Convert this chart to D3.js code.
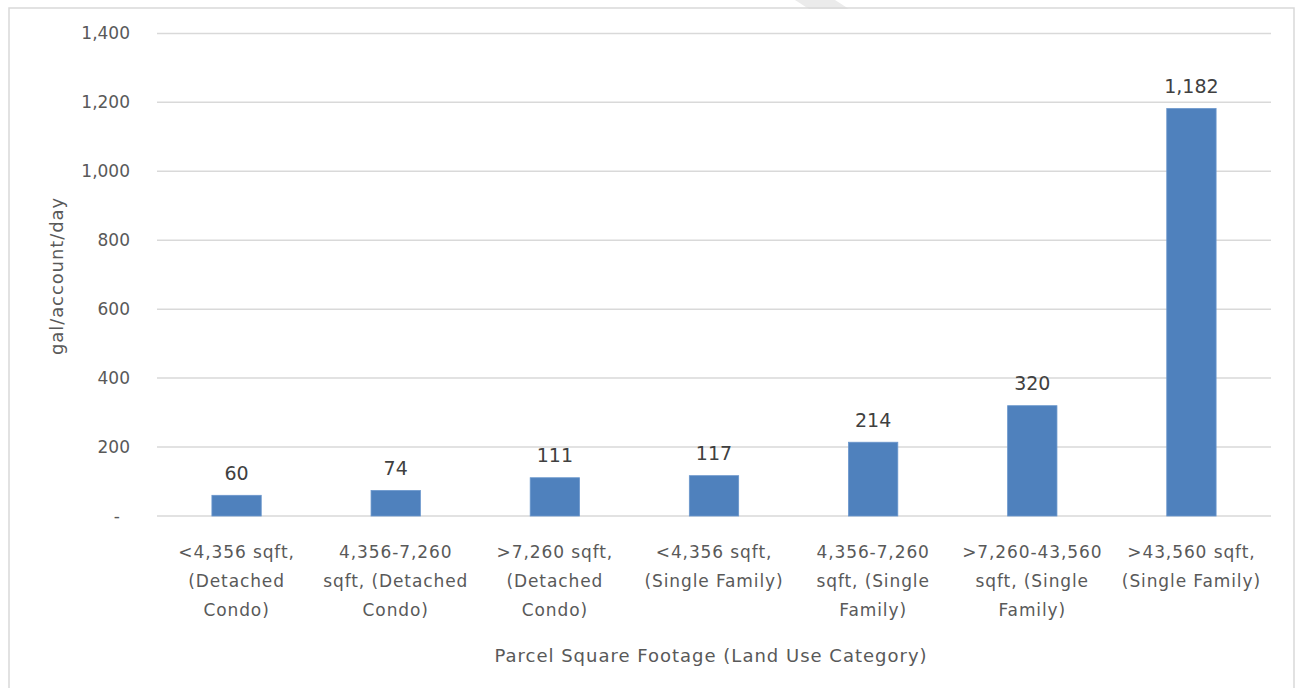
<!DOCTYPE html>
<html>
<head>
<meta charset="utf-8">
<script src="https://cdn.jsdelivr.net/npm/d3@7"></script>
<style>
  html, body { margin: 0; padding: 0; background: #fff; }
  svg { display: block; }
  text { font-family: "DejaVu Sans", sans-serif; }
</style>
</head>
<body>
<svg id="chart" width="1297" height="688"></svg>
<script>
const categories = [
  ["<4,356 sqft,", "(Detached", "Condo)"],
  ["4,356-7,260", "sqft, (Detached", "Condo)"],
  [">7,260 sqft,", "(Detached", "Condo)"],
  ["<4,356 sqft,", "(Single Family)"],
  ["4,356-7,260", "sqft, (Single", "Family)"],
  [">7,260-43,560", "sqft, (Single", "Family)"],
  [">43,560 sqft,", "(Single Family)"]
];
const values = [60, 74, 111, 117, 214, 320, 1182];
const yTicks = [0, 200, 400, 600, 800, 1000, 1200, 1400];
const yTitle = "gal/account/day";
const xTitle = "Parcel Square Footage (Land Use Category)";

const svg = d3.select("#chart");
const W = 1297, H = 688;
const m = { left: 157, right: 1271, top: 33.4, bottom: 516 };

svg.append("rect").attr("width", W).attr("height", H).attr("fill", "#fff");
// faint watermark band at the top
svg.append("polygon")
  .attr("points", "795,0 835,0 849,9 809,9")
  .attr("fill", "#ebebeb");
// chart border
svg.append("rect")
  .attr("x", 9).attr("y", 8).attr("width", 1285).attr("height", 700)
  .attr("fill", "none").attr("stroke", "#d9d9d9").attr("stroke-width", 1.5);

const idx = categories.map((d, i) => i);
const x = d3.scaleBand().domain(idx).range([m.left, m.right])
  .paddingInner(0.69).paddingOuter(0.345);
const y = d3.scaleLinear().domain([0, 1400]).range([m.bottom, m.top]);

// gridlines
svg.append("g").selectAll("line").data(yTicks).join("line")
  .attr("x1", m.left).attr("x2", m.right)
  .attr("y1", d => y(d)).attr("y2", d => y(d))
  .attr("stroke", "#d9d9d9").attr("stroke-width", 1.5);

// y axis labels
const yAxis = svg.append("g").attr("transform", `translate(130,0)`)
  .call(d3.axisLeft(y).tickValues(yTicks).tickSize(0).tickPadding(0)
    .tickFormat(d => d === 0 ? "-" : d3.format(",")(d)));
yAxis.select(".domain").remove();
yAxis.selectAll("text")
  .attr("fill", "#595959").style("font-size", "17px")
  .style("font-family", "DejaVu Sans, sans-serif")
  .attr("dx", d => d === 0 ? -10 : 0);

// bars
svg.append("g").selectAll("rect").data(values).join("rect")
  .attr("x", (d, i) => x(i)).attr("width", x.bandwidth())
  .attr("y", d => y(d)).attr("height", d => y(0) - y(d))
  .attr("fill", "#4f81bd").attr("stroke", "#6a96cc").attr("stroke-width", 0.8);

// data labels
svg.append("g").selectAll("text").data(values).join("text")
  .attr("x", (d, i) => x(i) + x.bandwidth() / 2)
  .attr("y", d => y(d) - 15.5)
  .attr("text-anchor", "middle")
  .attr("fill", "#404040").style("font-size", "19px")
  .text(d => d3.format(",")(d));

// category labels
const cat = svg.append("g").selectAll("text").data(categories).join("text")
  .attr("text-anchor", "middle")
  .attr("fill", "#595959").style("font-size", "17px")
  .style("letter-spacing", "0.9px");
cat.each(function(lines, i) {
  const t = d3.select(this);
  lines.forEach((ln, j) => {
    t.append("tspan")
      .attr("x", x(i) + x.bandwidth() / 2)
      .attr("y", 558 + j * 29)
      .text(ln);
  });
});

// axis titles
svg.append("text")
  .attr("transform", "translate(63,276) rotate(-90)")
  .attr("text-anchor", "middle")
  .attr("fill", "#595959").style("font-size", "18px")
  .style("letter-spacing", "0.9px")
  .text(yTitle);

svg.append("text")
  .attr("x", 711).attr("y", 662)
  .attr("text-anchor", "middle")
  .attr("fill", "#595959").style("font-size", "18px")
  .style("letter-spacing", "1px")
  .text(xTitle);
</script>
</body>
</html>
